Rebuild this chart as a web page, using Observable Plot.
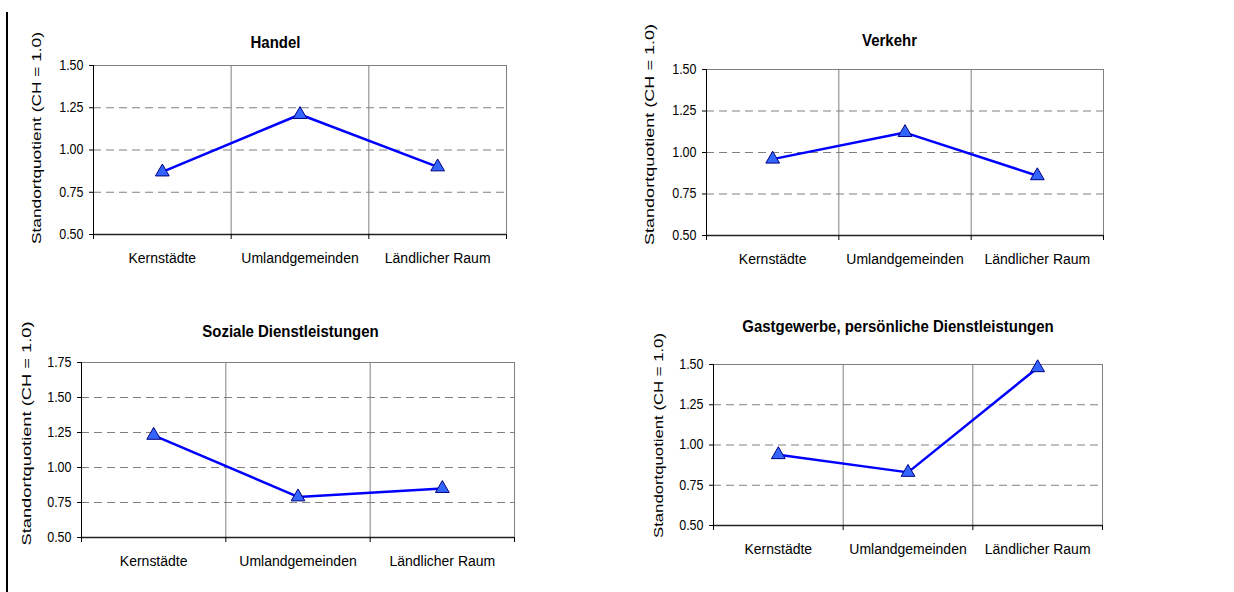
<!DOCTYPE html>
<html>
<head>
<meta charset="utf-8">
<script src="https://cdn.jsdelivr.net/npm/d3@7"></script>
<script src="https://cdn.jsdelivr.net/npm/@observablehq/plot@0.6"></script>
<style>
  html, body { margin: 0; padding: 0; background: #fff; }
  #root { position: relative; width: 1234px; height: 592px; overflow: hidden; background: #fff; font-family: "Liberation Sans", Arial, sans-serif; }
  .panel { position: absolute; }
  #leftbar { position: absolute; left: 6px; top: 12px; width: 2px; height: 580px; background: #000; }
</style>
</head>
<body>
<div id="root"><div id="leftbar"></div></div>
<script>
// ---- data ----
const categories = ["Kernstädte", "Umlandgemeinden", "Ländlicher Raum"];
const titles = ["Handel", "Verkehr", "Soziale Dienstleistungen", "Gastgewerbe, persönliche Dienstleistungen"];
const yAxisLabel = "Standortquotient (CH = 1.0)";
const handel = [0.87, 1.21, 0.90];
const verkehr = [0.96, 1.12, 0.86];
const sozialeDienstleistungen = [1.23, 0.79, 0.85];
const gastgewerbe = [0.94, 0.83, 1.48];
const yTicksStd = [0.50, 0.75, 1.00, 1.25, 1.50];
const yTicksSoz = [0.50, 0.75, 1.00, 1.25, 1.50, 1.75];

// ---- layout (pixel geometry only) ----
const panels = [
  {title: titles[0], values: handel, ticks: yTicksStd, left: 0, top: 0, width: 600, height: 295,
   frame: {l: 93, r: 506, t: 65, b: 234}, titleAt: [275, 42], ylabAt: [36, 137.5], ylabLen: 212, xlabY: 257.5},
  {title: titles[1], values: verkehr, ticks: yTicksStd, left: 617, top: 0, width: 600, height: 295,
   frame: {l: 706, r: 1103, t: 69, b: 235}, titleAt: [889, 40], ylabAt: [649, 134], ylabLen: 221, xlabY: 259},
  {title: titles[2], values: sozialeDienstleistungen, ticks: yTicksSoz, left: 0, top: 295, width: 600, height: 297,
   frame: {l: 81, r: 514, t: 362, b: 537}, titleAt: [290, 331], ylabAt: [26, 433], ylabLen: 224, xlabY: 561},
  {title: titles[3], values: gastgewerbe, ticks: yTicksStd, left: 617, top: 295, width: 600, height: 297,
   frame: {l: 713, r: 1102, t: 364, b: 525}, titleAt: [897.5, 326.5], ylabAt: [658, 435], ylabLen: 205, xlabY: 549}
];

const root = document.getElementById("root");
const font = '"Liberation Sans", Arial, sans-serif';
const textStretchY = 1.1;

for (const p of panels) {
  const data = categories.map((c, i) => ({cat: c, xi: i + 0.5, v: p.values[i]}));
  const yMin = p.ticks[0], yMax = p.ticks[p.ticks.length - 1];
  const inner = p.ticks.slice(1, -1);
  const f = p.frame;
  const mL = f.l - p.left, mR = p.left + p.width - f.r, mT = f.t - p.top, mB = p.top + p.height - f.b;
  const frameCx = (f.l + f.r) / 2, frameCy = (f.t + f.b) / 2;

  const chart = Plot.plot({
    width: p.width,
    height: p.height,
    marginLeft: mL, marginRight: mR, marginTop: mT, marginBottom: mB,
    style: {fontFamily: font, fontSize: "12px", background: "transparent", color: "#000", overflow: "visible"},
    x: {domain: [0, categories.length]},
    y: {domain: [yMin, yMax]},
    marks: [
      Plot.ruleY(inner, {stroke: "#808080", strokeWidth: 1, strokeDasharray: "8,5"}),
      Plot.ruleX(d3.range(1, categories.length), {stroke: "#808080", strokeWidth: 1}),
      Plot.ruleY([yMax], {stroke: "#808080", strokeWidth: 1}),
      Plot.ruleX([categories.length], {stroke: "#808080", strokeWidth: 1}),
      Plot.ruleX([0], {stroke: "#000", strokeWidth: 1}),
      Plot.ruleY([yMin], {stroke: "#222", strokeWidth: 1.6}),
      Plot.axisY({ticks: p.ticks, tickFormat: d3.format(".2f"), tickSize: 4, tickPadding: 6, label: null, fontSize: 12.5, stroke: "#000"}),
      Plot.axisX({ticks: d3.range(0, categories.length + 1), tickSize: 5, tickFormat: () => "", label: null, stroke: "#000"}),
      Plot.text(data, {x: "xi", text: "cat", frameAnchor: "bottom", dy: p.xlabY - f.b, lineAnchor: "middle", fontSize: 14}),
      Plot.line(data, {x: "xi", y: "v", stroke: "#0000ff", strokeWidth: 2.5}),
      Plot.dot(data, {x: "xi", y: "v", symbol: "triangle", r: 5.1, fill: "#3366ff", stroke: "#000080", strokeWidth: 1}),
      Plot.text([p.title], {frameAnchor: "top", dx: p.titleAt[0] - frameCx, dy: p.titleAt[1] - f.t, lineAnchor: "middle", fontSize: 15, fontWeight: "bold"}),
      Plot.text([yAxisLabel], {frameAnchor: "left", rotate: -90, dx: p.ylabAt[0] - f.l, dy: p.ylabAt[1] - frameCy, lineAnchor: "middle", textAnchor: "middle", fontSize: 12.5})
    ]
  });
  const div = document.createElement("div");
  div.className = "panel";
  div.style.left = p.left + "px";
  div.style.top = p.top + "px";
  div.appendChild(chart);
  root.appendChild(div);

  // the reference glyphs are slightly taller than wide: stretch text vertically about its own centre
  const svgns = "http://www.w3.org/2000/svg";
  chart.querySelectorAll("text").forEach(t => {
    if (t.textContent === yAxisLabel) {
      t.setAttribute("textLength", p.ylabLen);
      t.setAttribute("lengthAdjust", "spacingAndGlyphs");
      return;
    }
    const bb = t.getBBox();
    const c = t.transform.baseVal.consolidate();
    const ty = c ? c.matrix.f : 0;
    const cy = bb.y + bb.height / 2 + ty;
    const g = document.createElementNS(svgns, "g");
    g.setAttribute("transform", `translate(0,${cy}) scale(1,${textStretchY}) translate(0,${-cy})`);
    t.parentNode.insertBefore(g, t);
    g.appendChild(t);
  });
}
</script>
</body>
</html>
